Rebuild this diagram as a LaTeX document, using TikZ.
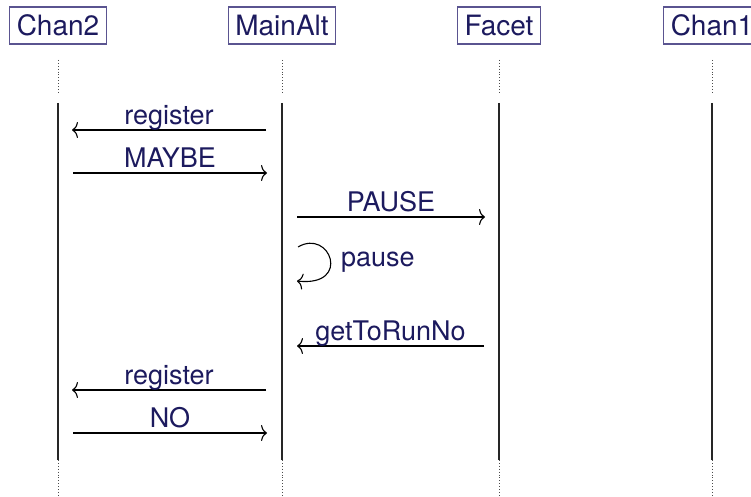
\documentclass[tikz,border=0pt]{standalone}
\usepackage{fontspec}
\setmainfont{TeX Gyre Heros}
\usetikzlibrary{arrows.meta}
\definecolor{txt}{HTML}{1C1A5E}
\definecolor{boxc}{HTML}{5A5490}
\tikzset{
  actor/.style={draw=boxc, line width=1.3pt, text=txt, font=\fontsize{28}{32}\selectfont, inner xsep=7pt, minimum height=37pt, anchor=center},
  life/.style={line width=1.1pt, black!85},
  lifedot/.style={line width=0.9pt, black!70, dotted},
  msg/.style={line width=1.1pt, -{Computer Modern Rightarrow[length=6pt,width=16pt]}},
  lbl/.style={text=txt, font=\fontsize{27}{31}\selectfont, inner sep=0pt, anchor=base, yshift=5.5pt}
}
\begin{document}
\begin{tikzpicture}[x=1pt,y=-1pt]
\useasboundingbox (0,0) rectangle (751,497);
\node[actor] (chan2) at (58,25.5) {Chan2};
\node[actor] (main) at (282,25.5) {MainAlt};
\node[actor] (facet) at (499,25.5) {Facet};
\node[actor] (chan1) at (712,25.5) {Chan1};
% lifelines
\foreach \n/\x in {chan2/58,main/282,facet/499,chan1/712}{
  \draw[lifedot] (\x,60) -- (\x,92);
  \draw[life] (\x,103) -- (\x,460);
  \draw[lifedot] (\x,460) -- (\x,497);
}
% message end points
\coordinate (r1a) at (266,130); \coordinate (r1b) at (72,130);
\coordinate (m1a) at (73,173); \coordinate (m1b) at (267,173);
\coordinate (p1a) at (297,217); \coordinate (p1b) at (485,217);
\coordinate (s1a) at (298,247); \coordinate (s1b) at (297,281);
\coordinate (g1a) at (484,346); \coordinate (g1b) at (297,346);
\coordinate (r2a) at (266,390); \coordinate (r2b) at (72,390);
\coordinate (n1a) at (73,433); \coordinate (n1b) at (267,433);
\draw[msg] (r1a) -- node[lbl] (l1) {register} (r1b);
\draw[msg] (m1a) -- node[lbl] (l2) {MAYBE} (m1b);
\draw[msg] (p1a) -- node[lbl, yshift=0.5pt] (l3) {PAUSE} (p1b);
\draw[msg] (s1a) .. controls (330,228) and (352,287) .. (s1b);
\node[text=txt, font=\fontsize{27}{31}\selectfont, anchor=base west, inner sep=0pt] (l4) at (341,266) {pause};
\draw[msg] (g1a) -- node[lbl, yshift=0.5pt] (l5) {getToRunNo} (g1b);
\draw[msg] (r2a) -- node[lbl] (l6) {register} (r2b);
\draw[msg] (n1a) -- node[lbl] (l7) {NO} (n1b);
\end{tikzpicture}
\end{document}
